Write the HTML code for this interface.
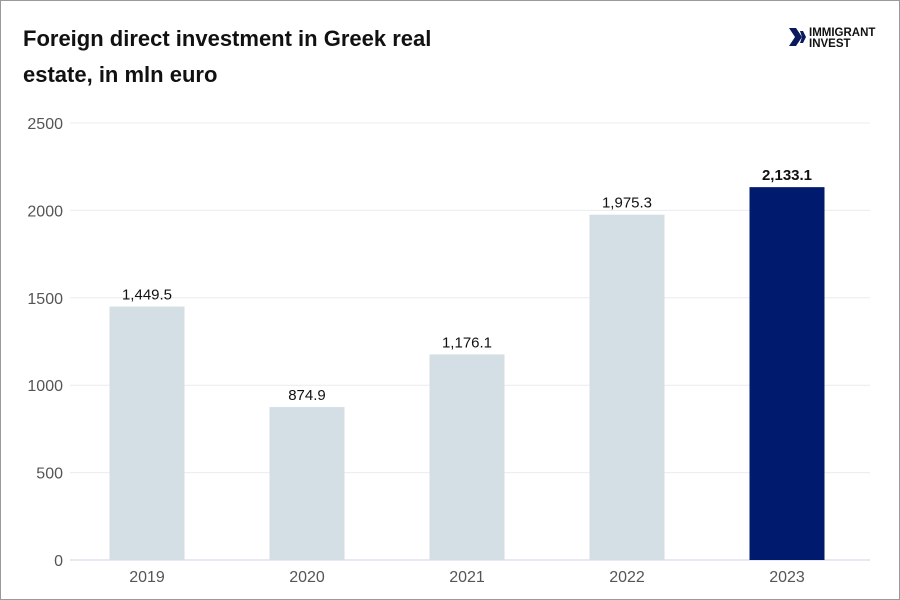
<!DOCTYPE html>
<html><head><meta charset="utf-8"><style>
body{margin:0;background:#fff;}
#wrap{position:relative;width:898px;height:598px;border:1px solid #9a9a9a;background:#fff;font-family:"Liberation Sans",sans-serif;overflow:hidden;}
#title{position:absolute;left:22px;top:20px;font-size:22px;font-weight:bold;color:#111;line-height:36px;width:470px;}
#logo{position:absolute;left:786px;top:24px;}
</style></head><body>
<div id="wrap">
<div id="title">Foreign direct investment in Greek real estate, in mln euro</div>
<div id="logo">
<svg width="110" height="24"><path d="M2 3 L9 3 L15 12 L9 21 L2 21 L8 12Z" fill="#0a1a5c"/><path d="M8 6 L11 6 L14 12 L11 18 L8 18 L10 12Z" fill="#0a1a5c" transform="translate(5,0)"/>
<text x="22" y="11" font-size="11.5" font-weight="bold" fill="#111" font-family="Liberation Sans">IMMIGRANT</text>
<text x="22" y="22" font-size="11.5" font-weight="bold" fill="#111" font-family="Liberation Sans">INVEST</text></svg>
</div>
<svg id="chart" width="898" height="598" style="position:absolute;left:0;top:0"></svg>
</div>
<script>
const categories=["2019","2020","2021","2022","2023"];
const values=[1449.5,874.9,1176.1,1975.3,2133.1];
const valueLabels=["1,449.5","874.9","1,176.1","1,975.3","2,133.1"];
const yTicks=[0,500,1000,1500,2000,2500];
const ns="http://www.w3.org/2000/svg";
const svg=document.getElementById('chart');
const y0=559,yTop=122,yMax=2500;
function y(v){return y0-(v/yMax)*(y0-yTop);}
function x(i){return 146+i*160;}
function mk(t,a,txt){const e=document.createElementNS(ns,t);for(const k in a)e.setAttribute(k,a[k]);if(txt!==undefined)e.textContent=txt;svg.appendChild(e);return e;}
yTicks.forEach(t=>{
 const l=mk('line',{x1:69,x2:869,y1:y(t),y2:y(t),stroke:t===0?'#c9d3e6':'#e8ecf0','stroke-width':1});
 
 
 const tx=mk('text',{x:62,y:y(t)+6,'text-anchor':'end','font-size':16,fill:'#555','font-family':'Liberation Sans'},String(t));
 
 
});
categories.forEach((c,i)=>{
 const last=i===categories.length-1;
 const r=mk('rect',{x:x(i)-37.5,y:y(values[i]),width:75,height:y0-y(values[i]),fill:last?'#001a6e':'#d4dee5'});
 
 
 const v=mk('text',{x:x(i),y:y(values[i])-7,'text-anchor':'middle','font-size':15,fill:'#111','font-weight':last?'bold':'normal','font-family':'Liberation Sans'},valueLabels[i]);
 
 
 const xl=mk('text',{x:x(i),y:581,'text-anchor':'middle','font-size':16,fill:'#555','font-family':'Liberation Sans'},c);
 
 
});
</script>
</body></html>
